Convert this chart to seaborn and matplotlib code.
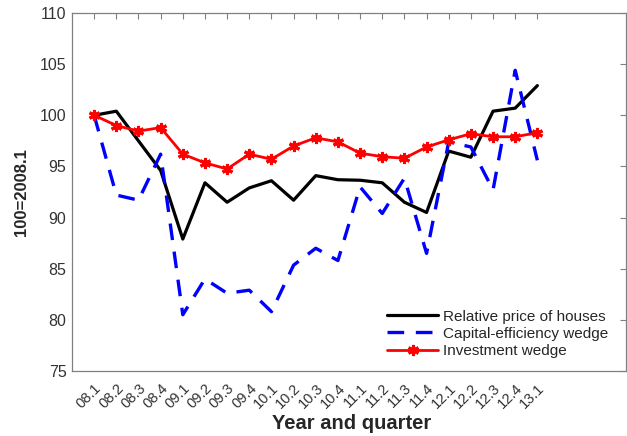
import numpy as np
import pandas as pd
import seaborn as sns
import matplotlib
matplotlib.use('Agg')
import matplotlib.pyplot as plt

# quarters on the x axis
quarters = ['08.1', '08.2', '08.3', '08.4', '09.1', '09.2', '09.3', '09.4',
            '10.1', '10.2', '10.3', '10.4', '11.1', '11.2', '11.3', '11.4',
            '12.1', '12.2', '12.3', '12.4', '13.1']

# series (100 = 2008.1)
house_price = [100.0, 100.4, 97.5, 94.6, 87.9, 93.4, 91.5, 92.9, 93.6, 91.7, 94.1,
               93.7, 93.65, 93.4, 91.5, 90.5, 96.5, 95.9, 100.4, 100.7, 102.9]
capital_wedge = [100.0, 92.2, 91.7, 96.2, 80.5, 84.0, 82.6, 82.9, 80.8, 85.35, 87.0,
                 85.8, 93.0, 90.4, 93.85, 86.5, 97.4, 96.9, 92.7, 104.4, 95.6]
invest_wedge = [100.0, 99.0, 98.45, 98.8, 96.2, 95.35, 94.75, 96.2, 95.7, 97.0, 97.8,
                97.4, 96.3, 95.95, 95.8, 96.9, 97.6, 98.2, 97.9, 97.9, 98.3]

pos = np.arange(1, len(quarters) + 1)
df = pd.DataFrame({'pos': pos, 'house': house_price,
                   'capital': capital_wedge, 'invest': invest_wedge})

sns.set_style('white')
plt.rcParams['font.family'] = ['Liberation Sans', 'DejaVu Sans']

fig = plt.figure(figsize=(6.27, 4.36), dpi=100)
ax = fig.add_axes([72 / 627, (436 - 371) / 436, (626 - 72) / 627, (371 - 13) / 436])

sns.lineplot(data=df, x='pos', y='house', ax=ax, color='black', lw=2.3,
             label='Relative price of houses')
sns.lineplot(data=df, x='pos', y='capital', ax=ax, color='blue', lw=2.4,
             dashes=False, label='Capital-efficiency wedge')
ax.lines[-1].set_dashes((5, 3.5))
sns.lineplot(data=df, x='pos', y='invest', ax=ax, color='red', lw=2.0,
             marker=(6, 2, 0), markersize=8, markeredgewidth=2.2,
             markeredgecolor='red', label='Investment wedge')

ax.set_xlim(0, 25)
ax.set_ylim(75, 110)
ax.set_xticks(pos)
ax.set_xticklabels(quarters, rotation=45, ha='right', rotation_mode='anchor')
ax.set_yticks(np.arange(75, 111, 5))

ax.tick_params(direction='in', length=4, width=0.8, color='#808080',
               top=True, right=True, labelsize=11.5, labelcolor='#333333', pad=4)
ax.tick_params(axis='x', pad=7, labelsize=10.5)
for sp in ax.spines.values():
    sp.set_color('#808080')
    sp.set_linewidth(0.9)

ax.set_xlabel('Year and quarter', fontsize=14.5, fontweight='bold', color='#262626')
ax.xaxis.set_label_coords(0.505, -(414 - 371) / 358)
ax.set_ylabel('100=2008.1', fontsize=12, fontweight='bold', color='#262626', labelpad=8)

leg = ax.legend(loc='lower right', frameon=False, fontsize=11, handlelength=3.3,
                handletextpad=0.35, labelspacing=0.2, borderaxespad=0.6,
                bbox_to_anchor=(0.996, -0.006))
for t in leg.get_texts():
    t.set_color('#262626')

fig.savefig('out.png', dpi=100)
